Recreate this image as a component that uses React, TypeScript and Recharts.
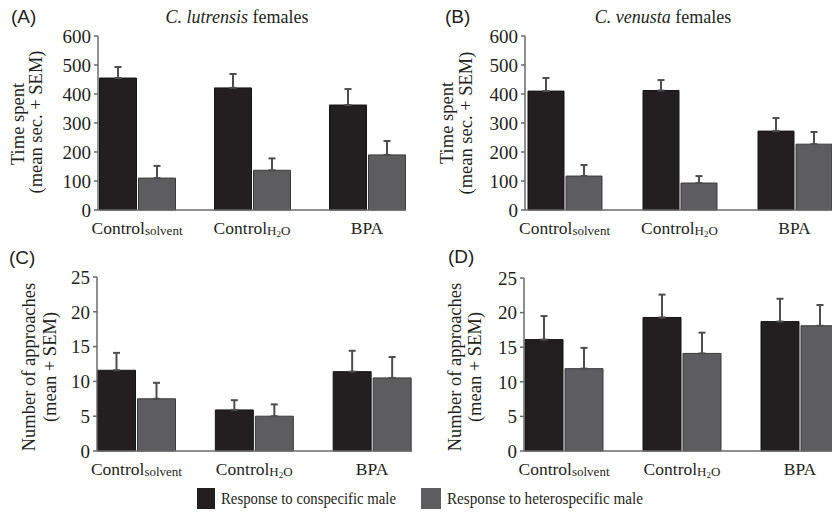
import React from 'react';
import { BarChart, Bar, XAxis, YAxis, ErrorBar } from 'recharts';

// treatment groups on the x axis
const groups = ['solvent', 'H2O', 'BPA'];

// (A) C. lutrensis females, time spent (mean sec. + SEM)
const lutTimeCon = [455, 421, 362];
const lutTimeConSem = [38, 48, 55];
const lutTimeHet = [110, 137, 190];
const lutTimeHetSem = [42, 41, 48];

// (B) C. venusta females, time spent
const venTimeCon = [410, 412, 272];
const venTimeConSem = [45, 36, 45];
const venTimeHet = [117, 93, 227];
const venTimeHetSem = [38, 24, 42];

// (C) C. lutrensis females, number of approaches
const lutAppCon = [11.6, 5.9, 11.4];
const lutAppConSem = [2.5, 1.4, 3.0];
const lutAppHet = [7.5, 5.0, 10.5];
const lutAppHetSem = [2.3, 1.7, 3.0];

// (D) C. venusta females, number of approaches
const venAppCon = [16.1, 19.3, 18.7];
const venAppConSem = [3.4, 3.3, 3.3];
const venAppHet = [11.9, 14.1, 18.1];
const venAppHetSem = [3.0, 3.0, 3.0];

const timeTicks = [0, 100, 200, 300, 400, 500, 600];
const approachTicks = [0, 5, 10, 15, 20, 25];

const SERIF = '"Liberation Serif", "Times New Roman", serif';
const SANS = '"Liberation Sans", Arial, sans-serif';
const INK = '#231f20';
const CON = '#231f20';
const HET = '#5d5d5f';
const AXIS = '#6a6a6a';
const ERR = '#4d4d4f';

const rows = (con: number[], conSem: number[], het: number[], hetSem: number[]) =>
  groups.map((g, i) => ({
    group: g,
    con: con[i],
    conErr: [0, conSem[i]],
    het: het[i],
    hetErr: [0, hetSem[i]],
  }));

const GroupTick = (props: any) => {
  const { x, y, payload } = props;
  const g = payload.value;
  return (
    <text x={x} y={y + 22} textAnchor="middle" fontFamily={SERIF} fontSize={17.5} fill={INK}>
      {g === 'BPA' ? 'BPA' : 'Control'}
      {g === 'solvent' && (
        <tspan fontSize={13} dy={1}>solvent</tspan>
      )}
      {g === 'H2O' && (
        <>
          <tspan fontSize={13} dy={1}>H</tspan>
          <tspan fontSize={9} dy={2}>2</tspan>
          <tspan fontSize={13} dy={-2}>O</tspan>
        </>
      )}
    </text>
  );
};

interface PanelProps {
  left: number;
  top: number;
  width: number;
  axisX: number;
  plotRight: number;
  plotTop: number;
  plotBottom: number;
  padL: number;
  padR: number;
  barSize: number;
  data: any[];
  max: number;
  ticks: number[];
}

const Panel = (p: PanelProps) => (
  <div style={{ position: 'absolute', left: p.left, top: p.top }}>
    <BarChart
      width={p.width}
      height={240}
      data={p.data}
      barGap={2}
      margin={{ top: p.plotTop, right: p.width - p.plotRight, left: 0, bottom: 0 }}
    >
      <XAxis
        dataKey="group"
        height={240 - p.plotBottom}
        padding={{ left: p.padL, right: p.padR }}
        axisLine={{ stroke: AXIS, strokeWidth: 1.5 }}
        tickLine={false}
        tickSize={0}
        tick={<GroupTick />}
        interval={0}
      />
      <YAxis
        width={p.axisX}
        domain={[0, p.max]}
        ticks={p.ticks}
        interval={0}
        axisLine={{ stroke: AXIS, strokeWidth: 1.5 }}
        tickLine={{ stroke: AXIS, strokeWidth: 1.5 }}
        tickSize={4}
        tickMargin={3}
        tick={{ fontFamily: SERIF, fontSize: 19, fill: INK }}
      />
      <Bar dataKey="con" barSize={p.barSize} fill={CON} stroke="#151515" strokeWidth={1} isAnimationActive={false}>
        <ErrorBar dataKey="conErr" direction="y" width={3.5} stroke={ERR} strokeWidth={2} isAnimationActive={false} />
      </Bar>
      <Bar dataKey="het" barSize={p.barSize} fill={HET} stroke="#3a3a3a" strokeWidth={1} isAnimationActive={false}>
        <ErrorBar dataKey="hetErr" direction="y" width={3.5} stroke={ERR} strokeWidth={2} isAnimationActive={false} />
      </Bar>
    </BarChart>
  </div>
);

const RotLabel = ({ x, y, text }: { x: number; y: number; text: string }) => (
  <text
    x={x}
    y={y}
    transform={`rotate(-90 ${x} ${y})`}
    textAnchor="middle"
    dominantBaseline="central"
    fontFamily={SERIF}
    fontSize={18.5}
    fill={INK}
  >
    {text}
  </text>
);

export default function App() {
  return (
    <div style={{ position: 'absolute', left: 0, top: 0, width: 832, height: 520, background: '#fff', overflow: 'hidden' }}>
      <Panel left={0} top={0} width={416} axisX={98} plotRight={406} plotTop={36} plotBottom={210}
        padL={-18.5} padR={-18.5} barSize={37} max={600} ticks={timeTicks}
        data={rows(lutTimeCon, lutTimeConSem, lutTimeHet, lutTimeHetSem)} />
      <Panel left={416} top={0} width={416} axisX={109} plotRight={416} plotTop={36} plotBottom={210}
        padL={-18} padR={-20} barSize={36} max={600} ticks={timeTicks}
        data={rows(venTimeCon, venTimeConSem, venTimeHet, venTimeHetSem)} />
      <Panel left={0} top={240} width={416} axisX={97} plotRight={412} plotTop={37} plotBottom={211}
        padL={-19.5} padR={-19} barSize={38} max={25} ticks={approachTicks}
        data={rows(lutAppCon, lutAppConSem, lutAppHet, lutAppHetSem)} />
      <Panel left={416} top={240} width={416} axisX={108} plotRight={416} plotTop={38} plotBottom={211}
        padL={-19} padR={-27} barSize={38} max={25} ticks={approachTicks}
        data={rows(venAppCon, venAppConSem, venAppHet, venAppHetSem)} />

      <svg width={832} height={520} style={{ position: 'absolute', left: 0, top: 0, pointerEvents: 'none' }}>
        <text x={11} y={23} fontFamily={SANS} fontSize={19} fill={INK}>(A)</text>
        <text x={445} y={23} fontFamily={SANS} fontSize={19} fill={INK}>(B)</text>
        <text x={9} y={264} fontFamily={SANS} fontSize={19} fill={INK}>(C)</text>
        <text x={448} y={263} fontFamily={SANS} fontSize={19} fill={INK}>(D)</text>

        <text x={237} y={23} textAnchor="middle" fontFamily={SERIF} fontSize={18} fill={INK}>
          <tspan fontStyle="italic">C. lutrensis</tspan> females
        </text>
        <text x={663} y={23} textAnchor="middle" fontFamily={SERIF} fontSize={18} fill={INK}>
          <tspan fontStyle="italic">C. venusta</tspan> females
        </text>

        <RotLabel x={18} y={124} text="Time spent" />
        <RotLabel x={36} y={122} text="(mean sec. + SEM)" />
        <RotLabel x={447} y={123} text="Time spent" />
        <RotLabel x={466} y={123} text="(mean sec. + SEM)" />
        <RotLabel x={29} y={367} text="Number of approaches" />
        <RotLabel x={50} y={367} text="(mean + SEM)" />
        <RotLabel x={455} y={367} text="Number of approaches" />
        <RotLabel x={475} y={367} text="(mean + SEM)" />

        <rect x={197} y={488} width={18} height={21} fill={CON} />
        <text x={221} y={504} fontFamily={SERIF} fontSize={16.5} textLength={175} lengthAdjust="spacingAndGlyphs" fill={INK}>
          Response to conspecific male
        </text>
        <rect x={421} y={488} width={20} height={21} fill={HET} />
        <text x={447} y={504} fontFamily={SERIF} fontSize={16.5} textLength={196} lengthAdjust="spacingAndGlyphs" fill={INK}>
          Response to heterospecific male
        </text>
      </svg>
    </div>
  );
}
